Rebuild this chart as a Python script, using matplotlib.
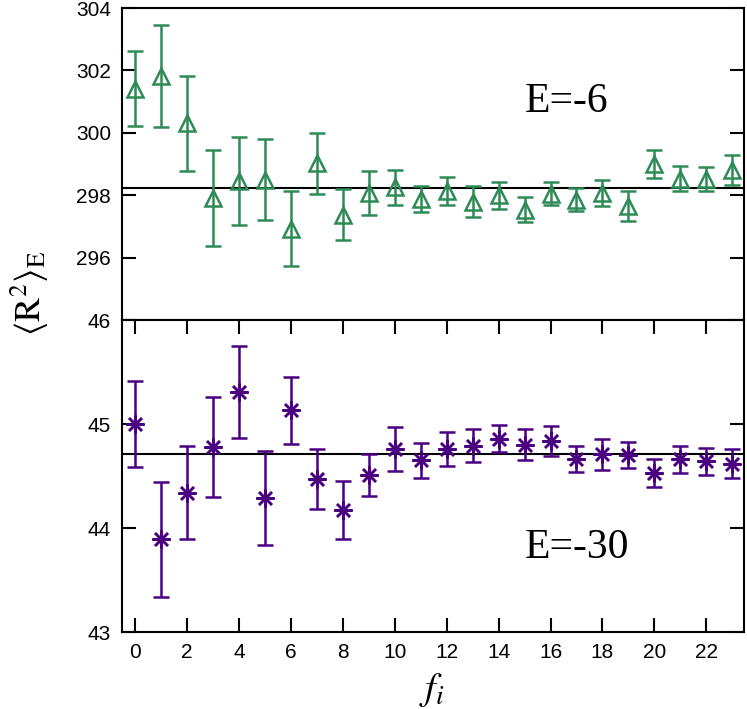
import matplotlib
matplotlib.use("Agg")
import matplotlib.pyplot as plt
import numpy as np

# ---- data ----
fi = list(range(24))

r2_e6 = [301.41, 301.81, 300.30, 297.90, 298.47, 298.50, 296.93, 299.02,
         297.37, 298.08, 298.25, 297.88, 298.14, 297.79, 298.00, 297.54,
         298.05, 297.86, 298.07, 297.65, 299.01, 298.52, 298.53, 298.81]
err_e6 = [1.20, 1.63, 1.53, 1.54, 1.41, 1.30, 1.19, 0.97,
          0.82, 0.71, 0.57, 0.42, 0.45, 0.49, 0.43, 0.41,
          0.37, 0.38, 0.43, 0.47, 0.45, 0.40, 0.38, 0.47]
mean_e6 = 298.22

r2_e30 = [45.00, 43.89, 44.34, 44.78, 45.31, 44.29, 45.13, 44.47,
          44.17, 44.51, 44.76, 44.65, 44.76, 44.79, 44.86, 44.80,
          44.84, 44.66, 44.71, 44.70, 44.53, 44.66, 44.64, 44.62]
err_e30 = [0.41, 0.55, 0.45, 0.48, 0.44, 0.45, 0.32, 0.29,
           0.28, 0.20, 0.21, 0.17, 0.16, 0.16, 0.13, 0.15,
           0.145, 0.125, 0.15, 0.125, 0.135, 0.13, 0.13, 0.135]
mean_e30 = 44.71

top_ticks = [296, 298, 300, 302, 304]
bot_ticks = [43, 44, 45, 46]
x_ticks = list(range(0, 24, 2))

green = "#2e8b57"
purple = "#4b0082"

plt.rcParams["font.family"] = ["Liberation Sans", "DejaVu Sans"]
plt.rcParams["mathtext.fontset"] = "stix"

W, H = 747, 709
fig = plt.figure(figsize=(W / 100, H / 100), dpi=100)
L, R = 122 / W, 744 / W
ax1 = fig.add_axes([L, 1 - 320 / H, R - L, (320 - 8) / H])
ax2 = fig.add_axes([L, 1 - 632 / H, R - L, (632 - 320) / H])

lw = 1.5
for ax in (ax1, ax2):
    for s in ax.spines.values():
        s.set_linewidth(lw)
    ax.set_xlim(-0.5, 23.45)
    ax.tick_params(direction="in", length=10, width=1.5, labelsize=15, pad=8)

# top panel
ax1.errorbar(fi, r2_e6, yerr=err_e6, fmt="^", color=green, mfc="none",
             mec=green, mew=1.8, ms=12, elinewidth=1.8, capsize=6, capthick=1.8)
ax1.axhline(mean_e6, color="black", lw=1.5, zorder=0)
ax1.set_ylim(294, 304)
ax1.set_yticks(top_ticks)
ax1.set_xticks(x_ticks)
ax1.tick_params(axis="x", bottom=False, top=False, labelbottom=False)
ax1.tick_params(axis="y", left=True, right=True)
fig.text(525 / W, 1 - 102 / H, "E=-6", fontsize=30,
         family="Liberation Serif", va="center", ha="left")

# bottom panel
ax2.errorbar(fi, r2_e30, yerr=err_e30, fmt="none", ecolor=purple,
             elinewidth=1.8, capsize=6, capthick=1.8)
ax2.plot(fi, r2_e30, ls="none", marker=(8, 2, 0), ms=13, mew=1.8,
         color=purple)
ax2.axhline(mean_e30, color="black", lw=1.5, zorder=0)
ax2.set_ylim(43, 46)
ax2.set_yticks(bot_ticks)
ax2.set_xticks(x_ticks)
ax2.tick_params(axis="x", bottom=True, top=True)
ax2.tick_params(axis="y", left=True, right=True)
fig.text(525 / W, 1 - 548 / H, "E=-30", fontsize=30,
         family="Liberation Serif", va="center", ha="left")

fig.text(30 / W, 1 - 293 / H, r"$\langle \mathrm{R}^{2} \rangle_{\mathrm{E}}$",
         rotation=90, fontsize=26, ha="center", va="center")
fig.text(432 / W, 1 - 690 / H, r"$f_i$", fontsize=28, ha="center", va="center")

fig.savefig("out.png", dpi=100)
